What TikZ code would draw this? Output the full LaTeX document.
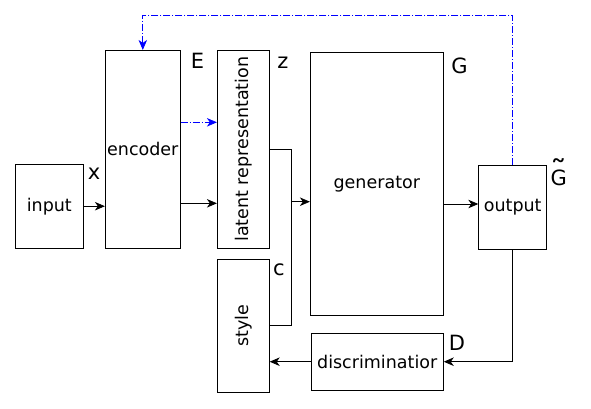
\documentclass[tikz,border=0pt]{standalone}
\usepackage{fontspec}
\setmainfont{DejaVu Sans}
\usepackage{graphicx}
\usetikzlibrary{arrows.meta}
\begin{document}
\begin{tikzpicture}[x=1bp,y=-1bp,
  box/.style={draw,line width=0.8bp,inner sep=0pt,font=\fontsize{17.5bp}{20bp}\selectfont},
  lbl/.style={anchor=base,inner sep=0pt,font=\fontsize{21bp}{24bp}\selectfont},
  arr/.style={line width=0.8bp,-{Stealth[length=10bp,width=8.5bp,inset=3bp]}},
  ln/.style={line width=0.8bp},
  bluearr/.style={line width=0.8bp,blue,dash pattern=on 7bp off 2bp on 1bp off 2bp,-{Stealth[length=10bp,width=8.5bp,inset=3bp]}}]
\useasboundingbox (0,0) rectangle (591,408);
\node[box,minimum width=68bp,minimum height=83.7bp] (input) at (49.3,206.2) {input};
\node[box,minimum width=75bp,minimum height=197.7bp] (enc) at (142.8,149.2) {encoder};
\node[box,minimum width=52bp,minimum height=197.7bp] (lat) at (243.3,149.2) {\rotatebox{90}{latent representation}};
\node[box,minimum width=133bp,minimum height=262.7bp] (gen) at (376.8,183.7) {generator};
\node[box,minimum width=68bp,minimum height=84bp] (out) at (512.7,207.3) {output};
\node[box,minimum width=52bp,minimum height=133bp] (sty) at (243.3,325.8) {\rotatebox{90}{style}};
\node[box,minimum width=132.3bp,minimum height=56.7bp] (disc) at (377.2,361.7) {discriminatior};

\node[lbl] (lx) at (94,179) {x};
\node[lbl] (lE) at (197.5,68.3) {E};
\node[lbl] (lz) at (283,68.3) {z};
\node[lbl] (lG) at (459.5,73.3) {G};
\node[lbl] (lGt) at (559,185) {\ooalign{G\cr\hfil\raisebox{4bp}{\scalebox{1.6}[1.4]{\char"02DC}}\hfil}};
\node[lbl] (lc) at (279,275) {c};
\node[lbl] (lD) at (457,350.7) {D};

\draw[arr] (input.east) -- (input.east -| enc.west);
\draw[arr] (enc.east |- 0,203.3) -- (lat.west |- 0,203.3);
\draw[bluearr] (enc.east |- 0,122.3) -- (lat.west |- 0,122.3);
\draw[ln] (lat.east) -- (291.7,149.2) |- (sty.east);
\coordinate (j) at (291.7,201.7);
\draw[arr] (j) -- (j -| gen.west);
\draw[arr] (gen.east |- 0,204) -- (out.west |- 0,204);
\draw[arr] (out.south) |- (disc.east);
\draw[arr] (disc.west) -- (disc.west -| sty.east);
\draw[bluearr] (out.north) -- (out.north |- 0,15.3) -| (enc.north);
\end{tikzpicture}
\end{document}
